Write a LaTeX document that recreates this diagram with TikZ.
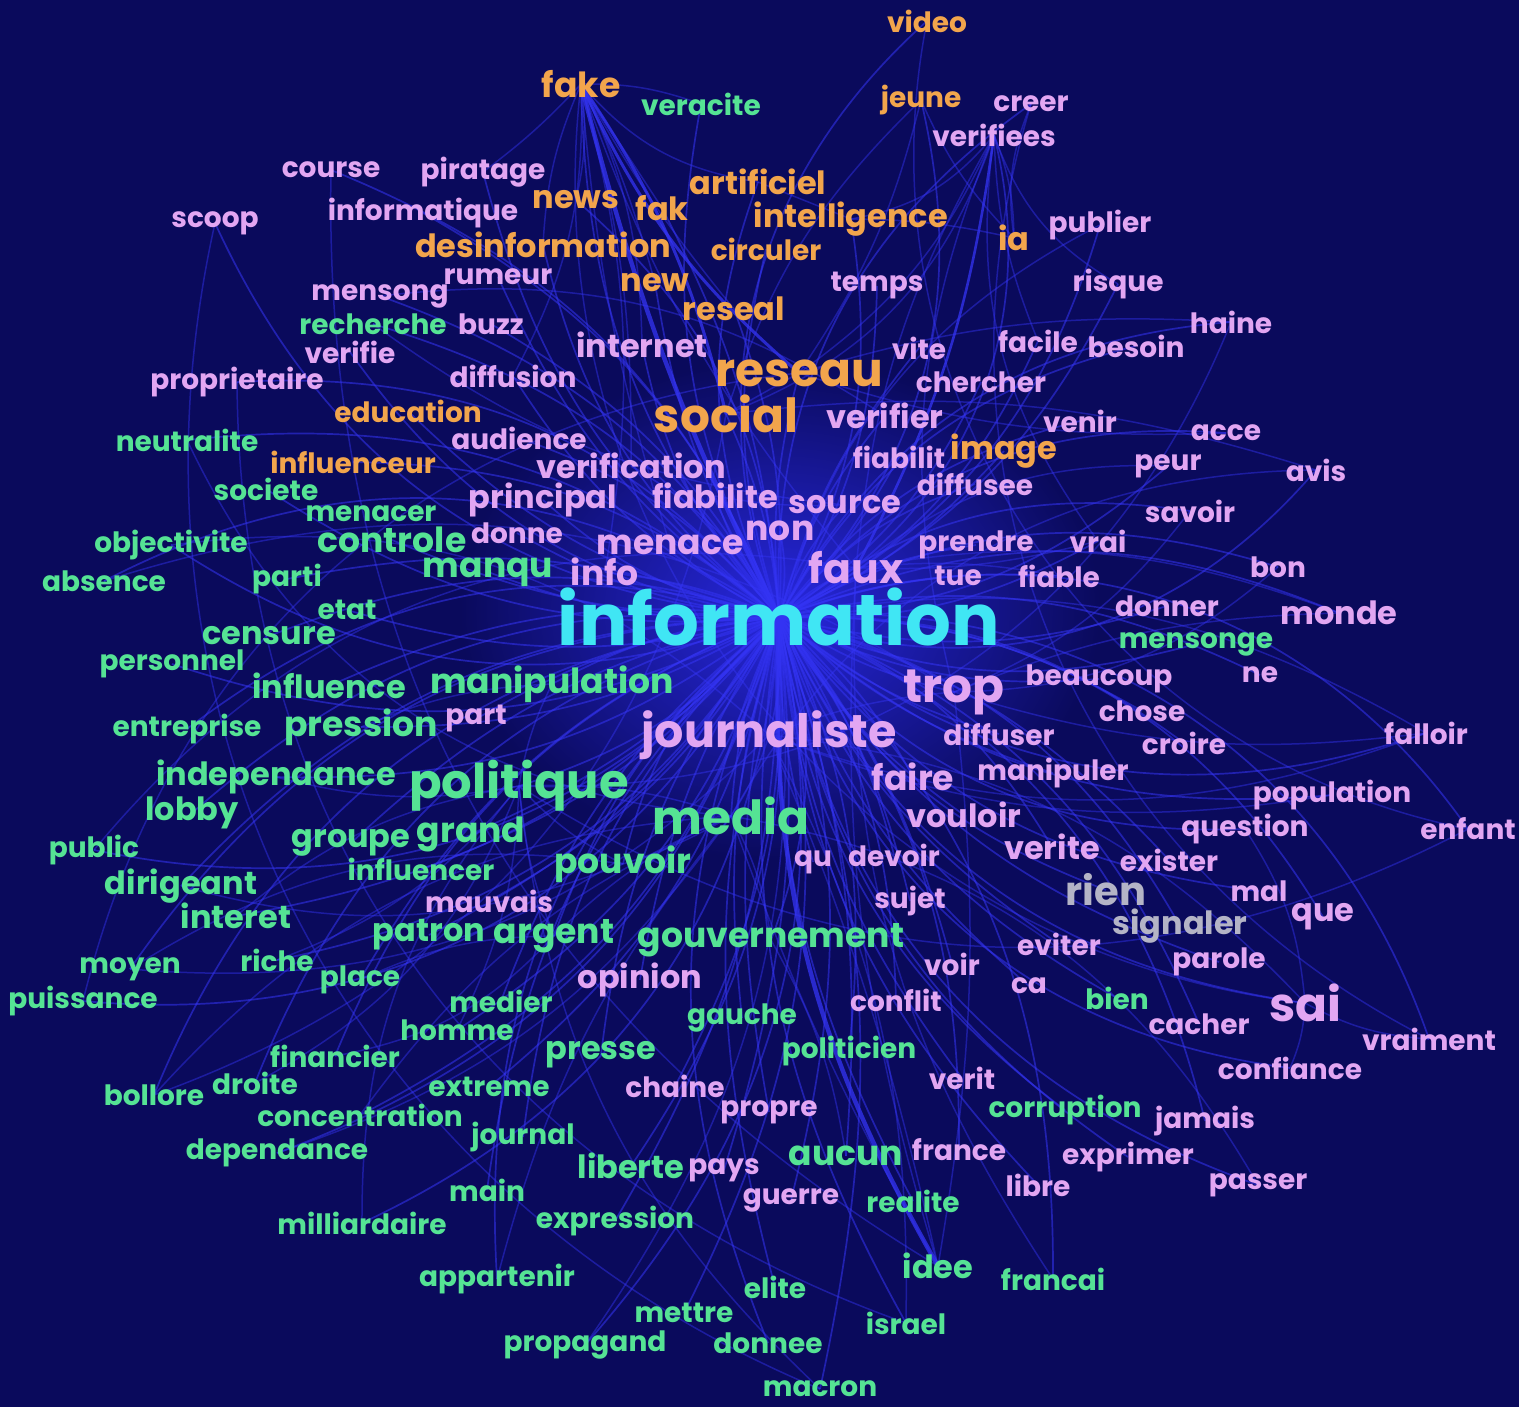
\documentclass[tikz,border=0pt]{standalone}
\usepackage{fontspec}
\setmainfont{Poppins}
\pgfdeclarelayer{bg}
\pgfsetlayers{bg,main}
\definecolor{night}{HTML}{0A0A5C}
\definecolor{glowc}{HTML}{2828E0}
\definecolor{linkc}{HTML}{3434F4}
\definecolor{wor}{HTML}{F2A54C}
\definecolor{wgr}{HTML}{55E394}
\definecolor{wpk}{HTML}{E2A6F2}
\definecolor{wgy}{HTML}{B4B4C6}
\definecolor{wcy}{HTML}{40E6F4}
\begin{document}
\begin{tikzpicture}[x=0.5pt,y=-0.5pt,
  word/.style={inner sep=0pt,anchor=center},
  ws/.style={word,font=\bfseries\fontsize{14}{15}\selectfont},
  wm/.style={word,font=\bfseries\fontsize{16}{17}\selectfont},
  wl/.style={word,font=\bfseries\fontsize{17.3}{19}\selectfont},
  wx/.style={word,font=\bfseries\fontsize{23.5}{25}\selectfont},
  wh/.style={word,font=\bfseries\fontsize{36}{38}\selectfont},
  link/.style={draw=linkc,line width=0.85pt,opacity=0.55},
  faint/.style={draw=linkc,line width=0.75pt,opacity=0.45},
  bundle/.style={draw=linkc,line width=2.2pt,opacity=0.75}]

\useasboundingbox (0,0) rectangle (1519,1407);
\begin{pgfonlayer}{bg}
  \fill[night] (0,0) rectangle (1519,1407);
  \shade[inner color=glowc,outer color=night] (780,610) ellipse [x radius=320,y radius=250];
\end{pgfonlayer}

% orange cluster
\foreach \x/\y/\w in {927/21/video,921/100/jeune,766/249/circuler,408/411/education,353/462/influenceur}
  \node[ws,text=wor] (\w) at (\x,\y) {\w};
\foreach \x/\y/\w in {758/182/artificiel,576/200/news,662/208/fak,851/219/intelligence,543/245/desinformation,1014/238/ia,655/283/new,734/309/reseal,1004/451/image}
  \node[wm,text=wor] (\w) at (\x,\y) {\w};
\node[wl,text=wor] (fake) at (581,84) {fake};
\node[wx,text=wor] (reseau) at (799,373) {reseau};
\node[wx,text=wor] (social) at (726,414) {social};

% green cluster
\foreach \x/\y/\w in {701/104/veracite,373/324/recherche,187/440/neutralite,266/489/societe,371/514/menacer,171/545/objectivite,104/581/absence,287/579/parti,347/610/etat,172/664/personnel,187/729/entreprise,421/869/influencer,130/969/moyen,277/960/riche,83/1001/puissance,360/980/place,501/1001/medier,457/1030/homme,742/1018/gauche,335/1056/financier,849/1051/politicien,255/1083/droite,154/1095/bollore,489/1087/extreme,360/1115/concentration,1065/1110/corruption,523/1137/journal,277/1153/dependance,487/1190/main,362/1223/milliardaire,615/1221/expression,913/1201/realite,1053/1279/francai,497/1279/appartenir,775/1287/elite,684/1313/mettre,906/1323/israel,585/1345/propagand,768/1343/donnee,820/1389/macron,1196/644/mensonge,1117/998/bien,94/850/public}
  \node[ws,text=wgr] (\w) at (\x,\y) {\w};
\foreach \x/\y/\w in {269/636/censure,329/686/influence,192/813/lobby,181/886/dirigeant,276/777/independance,351/843/groupe,236/916/interet,429/935/patron,601/1055/presse,631/1166/liberte,938/1266/idee}
  \node[wm,text=wgr] (\w) at (\x,\y) {\w};
\foreach \x/\y/\w in {392/540/controle,488/572/manqu,552/684/manipulation,361/727/pression,471/834/grand,623/864/pouvoir,554/936/argent,771/940/gouvernement,846/1156/aucun}
  \node[wl,text=wgr] (\w) at (\x,\y) {\w};
\node[word,font=\bfseries\fontsize{24}{25}\selectfont,text=wgr] (politique) at (519,786) {politique};
\node[wx,text=wgr] (media) at (731,816) {media};

% violet cluster
\foreach \x/\y/\w in {1031/104/creer,994/135/verifiees,331/170/course,483/172/piratage,215/223/scoop,423/213/informatique,1100/225/publier,498/277/rumeur,877/286/temps,1118/284/risque,380/296/mensong,491/324/buzz,1231/322/haine,350/352/verifie,919/348/vite,1038/341/facile,1136/346/besoin,237/382/proprietaire,513/376/diffusion,981/382/chercher,1080/421/venir,1226/433/acce,519/438/audience,899/457/fiabilit,1168/466/peur,1316/470/avis,975/484/diffusee,1190/511/savoir,517/533/donne,976/545/prendre,1098/541/vrai,1278/567/bon,958/576/tue,1059/576/fiable,1167/606/donner,1099/679/beaucoup,1260/675/ne,476/719/part,1142/711/chose,999/734/diffuser,1184/743/croire,1426/733/falloir,1053/773/manipuler,1332/795/population,1245/829/question,1468/829/enfant,813/862/qu,894/855/devoir,1169/860/exister,1259/891/mal,910/901/sujet,1059/944/eviter,1219/962/parole,952/964/voir,1029/986/ca,896/1000/conflit,1199/1024/cacher,1429/1039/vraiment,1290/1068/confiance,962/1078/verit,675/1086/chaine,769/1112/propre,1205/1121/jamais,959/1150/france,1128/1157/exprimer,724/1170/pays,1038/1185/libre,1258/1185/passer,791/1200/guerre,489/901/mauvais}
  \node[ws,text=wpk] (\w) at (\x,\y) {\w};
\foreach \x/\y/\w in {642/345/internet,885/416/verifier,631/466/verification,543/500/principal,715/496/fiabilite,845/505/source,1339/613/monde,964/815/vouloir,1052/847/verite,1323/917/que,640/980/opinion}
  \node[wm,text=wpk] (\w) at (\x,\y) {\w};
\foreach \x/\y/\w in {670/545/menace,780/531/non,605/572/info,913/777/faire}
  \node[wl,text=wpk] (\w) at (\x,\y) {\w};
\node[word,font=\bfseries\fontsize{20.5}{22}\selectfont,text=wpk] (faux) at (856,568) {faux};
\node[wx,text=wpk] (trop) at (954,692) {trop};
\node[word,font=\bfseries\fontsize{23}{25}\selectfont,text=wpk] (journaliste) at (769,735) {journaliste};
\node[wx,text=wpk] (sai) at (1305,1003) {sai};

% grey pair
\node[word,font=\bfseries\fontsize{20}{21}\selectfont,text=wgy] (rien) at (1106,890) {rien};
\node[wm,text=wgy] (signaler) at (1180,926) {signaler};

% hub
\node[wh,text=wcy] (information) at (779,617) {information};

% links
\begin{pgfonlayer}{bg}
\foreach \n/\b in {reseau/5,social/-5,fake/10,faux/5,trop/-5,journaliste/5,media/-5,politique/8,manipulation/-6,manqu/6,info/-4,menace/4,non/-6,source/6,verification/-8,principal/8,pouvoir/-10,gouvernement/10,argent/-8,faire/6,vouloir/-6,verite/10,rien/-10,signaler/12,sai/-15,monde/12,falloir/-15,enfant/20,population/-12,croire/10,beaucoup/-8,internet/8,news/-12,desinformation/10,intelligence/-10,artificiel/12,jeune/-15,video/18,verifiees/-20,creer/15,publier/-12,haine/15,avis/-18,bon/12,question/-14,que/16,confiance/-18,vraiment/20,passer/-16,jamais/14,francai/12,israel/-10,macron/8,donnee/-12,propagand/14,elite/-8,mettre/10,appartenir/-14,expression/8,milliardaire/16,main/-10,aucun/6,presse/-8,liberte/10,gauche/-6,politicien/8,corruption/-12,dependance/14,bollore/-16,puissance/18,moyen/-14,public/16,lobby/-12,independance/10,entreprise/-14,personnel/12,absence/-16,objectivite/14,neutralite/-12,societe/10,proprietaire/-14,scoop/16,course/-12,piratage/10,mensong/-10,verifie/12,recherche/-10,education/8,influenceur/-10,pression/8,influence/-8,controle/6,censure/-10,etat/8,parti/-8,grand/6,groupe/-8,interet/10,dirigeant/-12,patron/8,opinion/-6,homme/10,financier/-12,concentration/12,droite/-14,risque/-10,acce/14,peur/-10,savoir/12,mensonge/-10,chose/8,diffuser/-6,cacher/12,parole/-10,exister/8,mal/-12,fiable/6,vrai/-8,prendre/6,chercher/-8,venir/10,image/-6,fiabilite/4,fiabilit/-4,verifier/6,temps/-8,vite/6,facile/-10,besoin/12,tue/4,donner/-8,ne/10,manipuler/-6,devoir/6,qu/-4,sujet/6,eviter/-8,voir/6,ca/-8,conflit/8,verit/-8,chaine/8,propre/-6,france/10,exprimer/-12,pays/6,libre/-10,guerre/8,realite/-8,mauvais/8,medier/-8,extreme/10,journal/-10,riche/12,place/-10,influencer/8,part/-6,donne/6,audience/-8,diffusion/8,buzz/-8,rumeur/8,informatique/-10,circuler/8,fak/-6,new/6,reseal/-6,veracite/10,bien/-10,diffusee/8}
  {\pgfmathsetmacro\bb{1.9*\b}
   \draw[link] (information.center) to[bend left=\bb] (\n.center);}
\foreach \a/\c/\b in {fake/news/10,fake/desinformation/-10,fake/new/5,fake/reseal/-5,fake/internet/12,fake/diffusion/15,fake/fak/0,fake/veracite/10,fake/artificiel/-20,fake/piratage/5,fake/faux/-10,fake/info/12,fake/menace/-6,fake/verification/8,verifiees/ia/10,verifiees/facile/-10,verifiees/intelligence/20,verifiees/reseau/15,verifiees/risque/-20,verifiees/social/25,verifiees/faux/-12,verifiees/trop/-18,verifiees/vrai/-22,jeune/ia/-10,jeune/reseau/10,jeune/social/-14,creer/ia/-15,reseau/social/0,reseau/haine/10,reseau/acce/-10,social/avis/12,intelligence/artificiel/0,intelligence/ia/6,idee/media/5,idee/journaliste/-5,idee/faux/10,idee/trop/-8,politique/media/10,politique/pouvoir/-10,media/gouvernement/10,media/argent/-10,politique/independance/12,journaliste/sai/20,journaliste/falloir/-20,trop/monde/10,faux/vrai/-8,faux/fiable/8,source/fiabilite/6,journaliste/trop/8,media/journaliste/-8,politique/manipulation/8,manipulation/pression/-10,media/pouvoir/6,politique/argent/-8,gouvernement/aucun/10,sai/vraiment/-12,sai/confiance/10,sai/question/-14,creer/vraiment/-40,video/enfant/-45,fake/sai/-45,scoop/macron/-40,puissance/reseau/35,bollore/social/-30,public/faux/30,proprietaire/israel/-35,course/idee/-30,absence/trop/25,moyen/journaliste/-25,milliardaire/politique/20,dependance/media/-18,appartenir/media/12,macron/politique/20,propagand/information/-20,israel/journaliste/-14,francai/faux/18,passer/media/-25,enfant/politique/30,falloir/information/-20,population/journaliste/15,avis/media/-30,haine/politique/35,publier/journaliste/-30,mensong/verifier/20,recherche/source/-15,neutralite/media/-30,objectivite/journaliste/25,savoir/trop/15,peur/faux/-20,bon/trop/20,monde/faux/-15,falloir/trop/12,riche/politique/-15,place/argent/12,financier/argent/-18,concentration/media/15,droite/politique/-20,bollore/media/22,interet/politique/15,dirigeant/pouvoir/-18,moyen/pouvoir/20,homme/politique/-12}
  \draw[faint] (\a.center) to[bend left=\b] (\c.center);
% heavy bundles
\draw[bundle] (information.center) to[bend right=16] (idee.center);
\draw[bundle] (fake.center) to[bend right=6] (information.center);
\draw[bundle,line width=1.5pt] (fake.center) to[bend left=10] (social.center);
\draw[bundle,line width=1.5pt] (fake.center) to[bend right=12] (reseau.center);
\draw[bundle,line width=1.3pt] (verifiees.center) to[bend left=10] (faux.center);
\end{pgfonlayer}
\end{tikzpicture}
\end{document}
